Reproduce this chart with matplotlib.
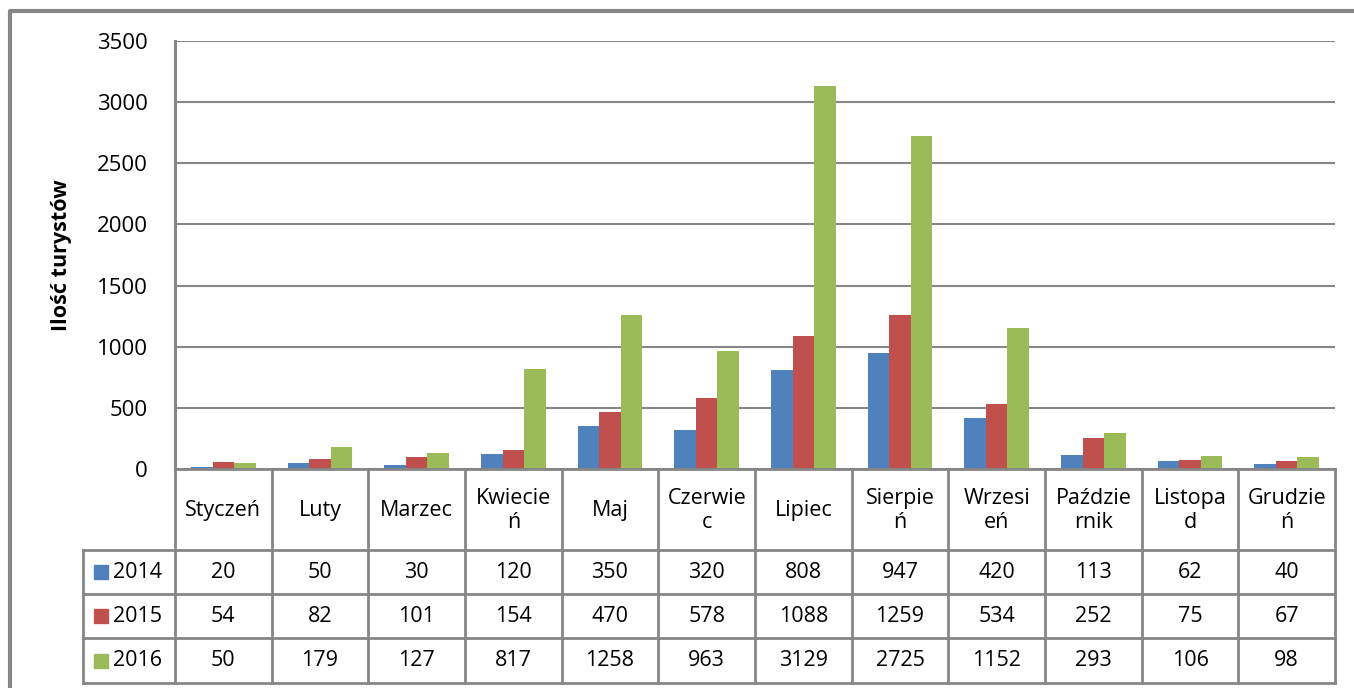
import matplotlib
matplotlib.use("Agg")
import matplotlib.pyplot as plt
import numpy as np

plt.rcParams["font.family"] = ["Open Sans", "DejaVu Sans"]

# data
months = ["Styczeń", "Luty", "Marzec", "Kwiecie\nń", "Maj", "Czerwie\nc",
          "Lipiec", "Sierpie\nń", "Wrzesi\neń", "Paździe\nrnik", "Listopa\nd", "Grudzie\nń"]
years = ["2014", "2015", "2016"]
v2014 = [20, 50, 30, 120, 350, 320, 808, 947, 420, 113, 62, 40]
v2015 = [54, 82, 101, 154, 470, 578, 1088, 1259, 534, 252, 75, 67]
v2016 = [50, 179, 127, 817, 1258, 963, 3129, 2725, 1152, 293, 106, 98]
series = [v2014, v2015, v2016]
colors = ["#4F81BD", "#C0504D", "#9BBB59"]
yticks = [0, 500, 1000, 1500, 2000, 2500, 3000, 3500]

W, H = 1354, 688
fig = plt.figure(figsize=(W / 100, H / 100), dpi=100)
grid_c = "#868686"
fs = 15.5

# pixel layout
x0, x1 = 175, 1335
ytop, y0 = 41, 469
rows = [469, 550, 594, 638, 683]
legx = 83

ax = fig.add_axes([x0 / W, 1 - y0 / H, (x1 - x0) / W, (y0 - ytop) / H])
n = len(months)
x = np.arange(n)
bw = 0.222
for i, (vals, c) in enumerate(zip(series, colors)):
    ax.bar(x + (i - 1) * bw, vals, width=bw, color=c, zorder=3)
ax.set_xlim(-0.5, n - 0.5)
ax.set_ylim(0, 3500)
ax.set_yticks(yticks)
ax.tick_params(axis="y", length=0, pad=19.5, labelsize=16)
ax.set_xticks([])
ax.grid(axis="y", color=grid_c, linewidth=1.5, zorder=0)
for s in ["top", "right", "bottom"]:
    ax.spines[s].set_visible(False)
ax.spines["left"].set_color(grid_c)
ax.spines["left"].set_linewidth(2)

fig.text(61 / W, 1 - 255 / H, "Ilość turystów", rotation=90, ha="center",
         va="center", fontsize=15.5, fontweight="bold")

# overlay for table in pixel coords
ov = fig.add_axes([0, 0, 1, 1])
ov.set_xlim(0, W)
ov.set_ylim(H, 0)
ov.axis("off")
lw = 2
cw = (x1 - x0) / n
# outer frame
ov.plot([10, 10, W + 5], [H + 5, 11, 11], color=grid_c, linewidth=3)
# horizontal lines
ov.plot([x0, x1], [rows[0], rows[0]], color=grid_c, linewidth=lw)
for r in rows[1:]:
    ov.plot([legx, x1], [r, r], color=grid_c, linewidth=lw)
# vertical lines
ov.plot([x0, x0], [ytop, rows[-1]], color=grid_c, linewidth=lw)
ov.plot([legx, legx], [rows[1], rows[-1]], color=grid_c, linewidth=lw)
for j in range(1, n + 1):
    xx = x0 + j * cw
    ov.plot([xx, xx], [rows[0], rows[-1]], color=grid_c, linewidth=lw)

for j, m in enumerate(months):
    cx = x0 + (j + 0.5) * cw
    ov.text(cx, (rows[0] + rows[1]) / 2 + 1, m, ha="center", va="center",
            fontsize=fs, linespacing=1.2)
    for i, vals in enumerate(series):
        cy = (rows[i + 1] + rows[i + 2]) / 2
        ov.text(cx, cy, str(vals[j]), ha="center", va="center", fontsize=fs)

for i, (yr, c) in enumerate(zip(years, colors)):
    cy = (rows[i + 1] + rows[i + 2]) / 2
    ov.add_patch(plt.Rectangle((94, cy - 7), 14, 14, color=c))
    ov.text(113, cy, yr, ha="left", va="center", fontsize=fs)

fig.savefig("out.png", dpi=100)
